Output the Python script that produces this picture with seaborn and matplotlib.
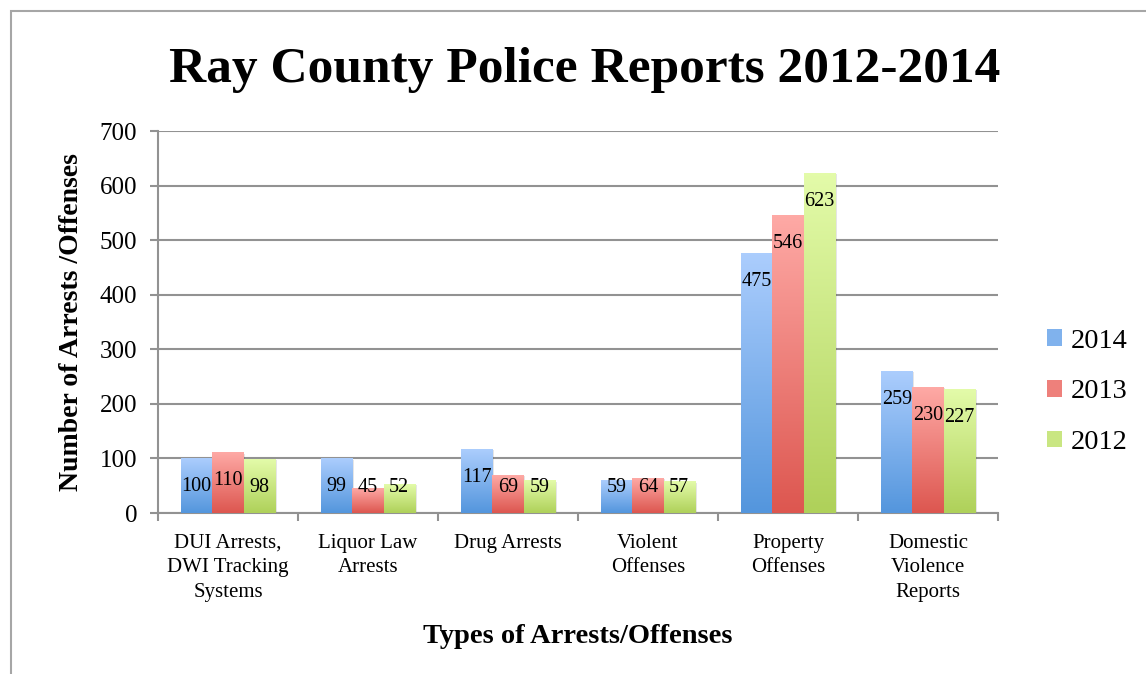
import numpy as np
import pandas as pd
import matplotlib
matplotlib.use("Agg")
import matplotlib.pyplot as plt
import matplotlib.colors as mcolors
from matplotlib.patches import Rectangle
from matplotlib.ticker import FixedLocator, MultipleLocator
import seaborn as sns

# ---- data -------------------------------------------------------------
categories = [
    "DUI Arrests,\nDWI Tracking\nSystems",
    "Liquor Law\nArrests",
    "Drug Arrests",
    "Violent\nOffenses",
    "Property\nOffenses",
    "Domestic\nViolence\nReports",
]
years = ["2014", "2013", "2012"]
arrests_2014 = [100, 99, 117, 59, 475, 259]
arrests_2013 = [110, 45, 69, 64, 546, 230]
arrests_2012 = [98, 52, 59, 57, 623, 227]

series = {"2014": arrests_2014, "2013": arrests_2013, "2012": arrests_2012}
df = pd.DataFrame(
    [(c, y, v) for y in years for c, v in zip(categories, series[y])],
    columns=["category", "year", "count"],
)

# light (top) -> dark (bottom) gradient per year
grad = {
    "2014": ("#abcdfd", "#5496dd"),
    "2013": ("#fea9a5", "#dd5750"),
    "2012": ("#e3fba9", "#afd15a"),
}
mid = {k: tuple((np.array(mcolors.to_rgb(a)) + np.array(mcolors.to_rgb(b))) / 2)
       for k, (a, b) in grad.items()}

sns.set_theme(style="white")
plt.rcParams["font.family"] = ["Liberation Serif", "DejaVu Serif"]
plt.rcParams["text.color"] = "black"
plt.rcParams["axes.labelcolor"] = "black"

fig = plt.figure(figsize=(11.46, 6.74), dpi=100)
ax = fig.add_axes([158 / 1146, 1 - 513 / 674, 840 / 1146, 382 / 674])

sns.barplot(data=df, x="category", y="count", hue="year", hue_order=years,
            order=categories, palette=mid, width=0.67, ax=ax,
            legend=False, errorbar=None, saturation=1)

ax.set_ylim(0, 700)
xlim = (-0.5, len(categories) - 0.5)
ax.set_xlim(*xlim)

# replace flat fills with vertical gradients and add value labels
px_per_unit = 382 / 700
for yr, cont in zip(years, ax.containers):
    top_c, bot_c = (np.array(mcolors.to_rgb(c)) for c in grad[yr])
    ramp = np.linspace(0, 1, 64)[:, None, None]
    img = top_c * (1 - ramp) + bot_c * ramp
    for bar in cont:
        x0, w, h = bar.get_x(), bar.get_width(), bar.get_height()
        bar.set_alpha(0)
        # soft drop shadow on the right
        ax.add_patch(Rectangle((x0 + 0.012, 0), w, h - 1.5, facecolor="#000000",
                               alpha=0.10, edgecolor="none", zorder=2))
        ax.imshow(img, extent=(x0, x0 + w, 0, h), aspect="auto", zorder=3,
                  interpolation="bilinear")
        ly = max(h - 28 / px_per_unit, 25 / px_per_unit)
        ax.text(x0 + w / 2, ly, f"{int(round(h))}", ha="center", va="center",
                fontsize=14.5, color="black", zorder=4)

ax.set_xlim(*xlim)
ax.set_ylim(0, 700)
ax.set_aspect("auto")

# grid and spines
ax.yaxis.set_major_locator(MultipleLocator(100))
ax.grid(axis="y", color="#929292", linewidth=1.5, zorder=0)
ax.grid(axis="x", visible=False)
ax.set_axisbelow(True)
for s in ("top", "right"):
    ax.spines[s].set_visible(False)
for s in ("left", "bottom"):
    ax.spines[s].set_color("#929292")
    ax.spines[s].set_linewidth(1.5)

ax.tick_params(axis="y", which="major", length=6, width=1.5, color="#929292",
               left=True, labelsize=18, pad=9, labelcolor="black")
ax.tick_params(axis="x", which="major", length=0, labelsize=15, pad=15,
               labelcolor="black")
ax.xaxis.set_minor_locator(FixedLocator(np.arange(-0.5, len(categories), 1.0)))
ax.tick_params(axis="x", which="minor", length=6, width=1.5, color="#929292",
               bottom=True)
for lbl in ax.get_xticklabels():
    lbl.set_linespacing(1.4)

ax.set_xlabel("Types of Arrests/Offenses", fontsize=20.5, fontweight="bold",
              labelpad=16)
ax.set_ylabel("Number of Arrests /Offenses", fontsize=20, fontweight="bold",
              labelpad=11)

fig.suptitle("Ray County Police Reports 2012-2014", x=585 / 1146,
             y=1 - 70 / 674, va="center", fontsize=37, fontweight="bold")

# legend
handles = [Rectangle((0, 0), 1, 1, facecolor=mid[y], edgecolor="none") for y in years]
fig.legend(handles, years, loc="center left",
           bbox_to_anchor=(1047 / 1146, 1 - 392 / 674), frameon=False,
           fontsize=20.5, handlelength=0.52, handleheight=0.52,
           labelspacing=0.9, handletextpad=0.3, borderpad=0, borderaxespad=0)

# outer chart frame
fig.patches.append(Rectangle((11 / 1146, -0.1), 1.2, 1 - 11 / 674 + 0.1,
                             transform=fig.transFigure, fill=False,
                             edgecolor="#a6a6a6", linewidth=1.5))

fig.savefig("out.png", dpi=100)
